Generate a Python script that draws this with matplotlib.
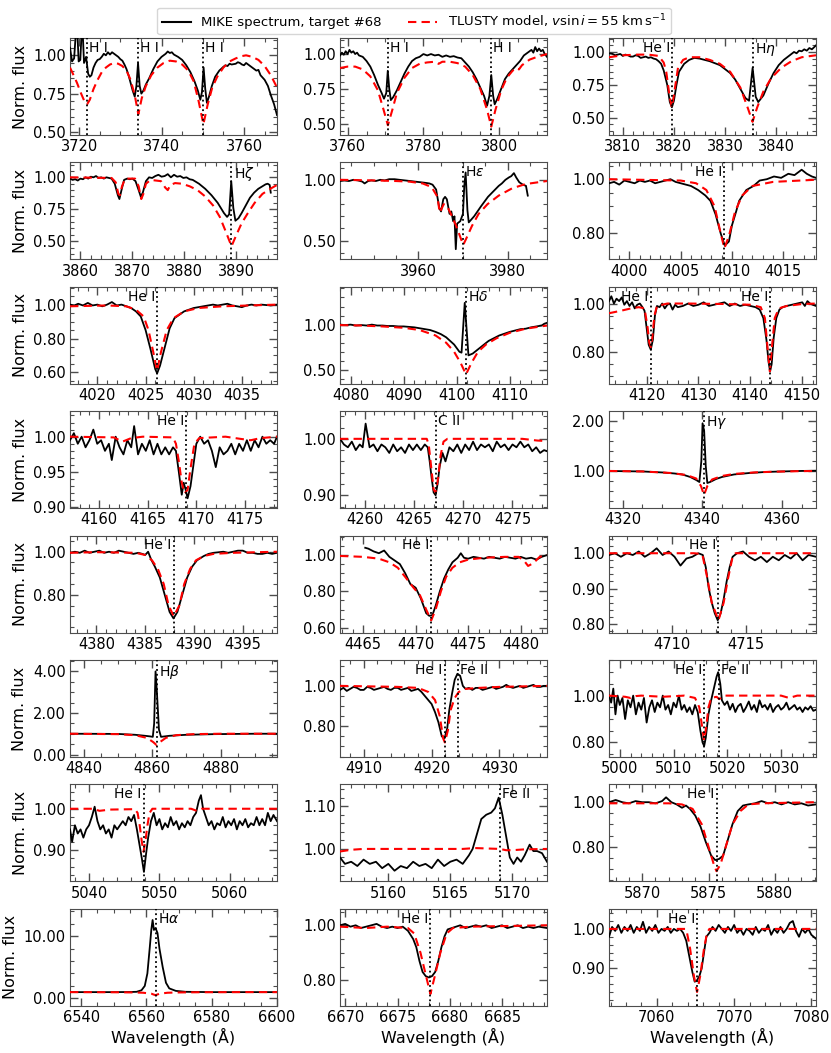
import numpy as np
import matplotlib
matplotlib.use('Agg')
import matplotlib.pyplot as plt
from matplotlib.ticker import MultipleLocator, AutoMinorLocator, FormatStrFormatter
from matplotlib.lines import Line2D

plt.rcParams['font.family'] = 'DejaVu Sans'
plt.rcParams['mathtext.fontset'] = 'dejavusans'

p01_obs = [(3717.8,1.05),(3718.3,0.96),(3718.8,0.98),(3719.2,1.14),(3719.6,1.14),(3719.9,0.96),(3720.3,0.97),
           (3720.6,1.14),(3720.9,1.14),(3721.2,0.95),(3721.7,0.99),(3722.2,0.88),(3722.6,0.86),(3723.0,0.87),
           (3723.5,0.92),(3724.0,0.95),(3724.5,0.97),(3725.0,0.975),(3725.5,0.99),(3726.0,1.01),(3726.5,1.0),
           (3727.0,1.02),(3727.5,1.005),(3728.0,1.02),(3728.5,1.01),(3729.0,1.0),(3729.5,0.99),(3730.0,0.975),
           (3730.5,0.965),(3731.0,0.94),(3731.5,0.91),(3732.0,0.87),(3732.5,0.82),(3733.0,0.77),(3733.5,0.73),
           (3733.9,0.80),(3734.3,0.95),(3734.7,0.80),(3735.1,0.75),(3735.6,0.77),(3736.2,0.81),(3737.0,0.85),
           (3738.0,0.91),(3739.0,0.96),(3740.0,0.99),(3741.0,1.01),(3741.5,1.025),(3742.0,1.015),(3742.5,1.02),
           (3743.0,1.005),(3744.0,0.99),(3745.0,0.97),(3746.0,0.935),(3747.0,0.89),(3748.0,0.83),(3748.8,0.77),
           (3749.4,0.71),(3749.8,0.76),(3750.2,0.92),(3750.6,0.78),(3751.0,0.69),(3751.5,0.73),(3752.2,0.80),
           (3753.0,0.86),(3754.0,0.90),(3755.0,0.925),(3755.5,0.935),(3756.0,0.93),(3756.5,0.945),(3757.0,0.94),
           (3758.0,0.945),(3758.5,0.955),(3759.0,0.95),(3759.5,0.94),(3760.0,0.935),(3760.5,0.95),(3761.0,0.94),
           (3762.0,0.92),(3763.0,0.90),(3763.5,0.905),(3764.0,0.87),(3765.0,0.84),(3765.8,0.80),(3766.5,0.74),
           (3767.3,0.68),(3768.0,0.61)]
p01_mod = [(3717.8,0.92),(3718.5,0.88),(3719.5,0.82),(3720.5,0.75),(3721.3,0.70),(3721.94,0.68),(3722.6,0.71),
           (3723.5,0.78),(3724.5,0.84),(3725.5,0.89),(3726.5,0.92),(3727.5,0.94),(3728.5,0.95),(3729.5,0.945),
           (3730.5,0.93),(3731.5,0.90),(3732.5,0.84),(3733.5,0.74),(3734.37,0.615),(3735.2,0.72),(3736.2,0.80),
           (3737.5,0.87),(3739.0,0.92),(3740.5,0.95),(3742.0,0.965),(3743.5,0.96),(3745.0,0.94),(3746.5,0.90),
           (3747.8,0.83),(3749.0,0.70),(3750.15,0.55),(3751.2,0.68),(3752.3,0.79),(3753.5,0.86),(3755.0,0.92),
           (3756.5,0.96),(3758.0,0.98),(3759.5,0.995),(3760.5,1.0),(3762.0,0.99),(3763.5,0.97),(3765.0,0.93),
           (3766.5,0.87),(3768.0,0.79)]

p02_obs = [(3758.0,0.99),(3758.5,1.01),(3759.0,0.995),(3759.5,1.02),(3760.0,1.0),(3760.5,1.03),(3761.0,1.01),
           (3761.5,1.02),(3762.0,1.0),(3762.5,1.01),(3763.0,0.99),(3764.0,0.98),(3765.0,0.95),(3766.0,0.91),
           (3767.0,0.85),(3768.0,0.78),(3769.0,0.72),(3769.6,0.68),(3770.2,0.72),(3770.6,0.88),(3771.0,0.75),
           (3771.4,0.67),(3772.0,0.69),(3773.0,0.74),(3774.0,0.80),(3775.0,0.86),(3776.0,0.91),(3777.0,0.95),
           (3778.0,0.97),(3779.0,0.98),(3780.0,1.0),(3781.0,0.99),(3782.0,1.0),(3783.0,0.99),(3784.0,0.995),
           (3785.0,0.98),(3786.0,0.99),(3787.0,0.98),(3788.0,0.985),(3789.0,0.975),(3790.0,0.97),(3791.0,0.94),
           (3792.0,0.91),(3793.0,0.87),(3794.0,0.82),(3795.0,0.76),(3796.0,0.70),(3796.8,0.63),(3797.4,0.70),
           (3797.9,0.85),(3798.4,0.70),(3798.8,0.64),(3799.5,0.68),(3800.5,0.75),(3801.5,0.82),(3802.5,0.86),
           (3803.5,0.89),(3804.5,0.92),(3805.5,0.95),(3806.5,0.99),(3807.5,1.01),(3808.5,1.03),(3809.0,1.01),
           (3809.5,1.05),(3810.0,1.02),(3810.5,1.04),(3811.0,1.02),(3811.5,1.03),(3812.0,1.0),(3812.6,0.98)]
p02_mod = [(3758.0,0.90),(3760.0,0.91),(3762.0,0.91),(3764.0,0.89),(3766.0,0.84),(3768.0,0.74),(3769.5,0.60),
           (3770.63,0.49),(3771.8,0.60),(3773.0,0.72),(3775.0,0.83),(3777.0,0.90),(3779.0,0.93),(3781.0,0.94),
           (3783.0,0.945),(3784.0,0.93),(3785.0,0.945),(3787.0,0.945),(3789.0,0.935),(3791.0,0.91),(3793.0,0.85),
           (3795.0,0.75),(3796.8,0.60),(3797.9,0.48),(3799.0,0.60),(3800.5,0.74),(3802.0,0.83),(3803.5,0.88),
           (3804.5,0.90),(3805.2,0.89),(3806.0,0.92),(3808.0,0.96),(3810.0,0.98),(3812.6,1.0)]

p03_obs = [(3807.3,0.99),(3808.0,0.985),(3808.5,0.975),(3809.0,0.98),(3809.5,0.985),(3810.0,0.97),(3810.5,0.98),
           (3811.0,0.975),(3811.5,0.965),(3812.0,0.965),(3812.5,0.975),(3813.0,0.97),(3813.5,0.955),(3814.0,0.96),
           (3814.5,0.965),(3815.0,0.955),(3815.5,0.96),(3816.0,0.95),(3816.5,0.945),(3817.0,0.93),(3817.5,0.91),
           (3818.0,0.86),(3818.7,0.75),(3819.2,0.62),(3819.6,0.58),(3820.0,0.63),(3820.5,0.75),(3821.0,0.85),
           (3822.0,0.91),(3823.0,0.94),(3824.0,0.955),(3825.0,0.95),(3826.0,0.94),(3827.0,0.93),(3828.0,0.915),
           (3829.0,0.90),(3830.0,0.87),(3831.0,0.84),(3832.0,0.79),(3833.0,0.72),(3834.0,0.65),(3834.7,0.63),
           (3835.4,0.88),(3836.0,0.66),(3836.5,0.62),(3837.5,0.67),(3838.5,0.76),(3839.5,0.84),(3840.5,0.90),
           (3841.5,0.94),(3842.5,0.97),(3843.0,0.985),(3843.5,1.0),(3844.0,0.99),(3844.5,1.01),(3845.0,1.005),
           (3845.5,1.02),(3846.0,1.01),(3846.5,1.03),(3847.0,1.02),(3847.8,1.05)]
p03_mod = [(3807.3,0.96),(3810.0,0.975),(3813.0,0.98),(3815.0,0.98),(3817.0,0.97),(3818.0,0.92),(3818.5,0.85),
           (3819.2,0.65),(3819.6,0.58),(3820.1,0.70),(3820.8,0.88),(3821.8,0.94),(3823.0,0.96),(3825.0,0.96),
           (3827.0,0.94),(3829.0,0.91),(3831.0,0.85),(3833.0,0.73),(3834.5,0.57),(3835.38,0.47),(3836.3,0.58),
           (3837.5,0.70),(3839.0,0.80),(3841.0,0.88),(3843.0,0.93),(3845.0,0.96),(3847.8,0.975)]

p04_obs = [(3858.0,0.99),(3858.5,0.98),(3859.0,0.985),(3859.5,0.975),(3860.0,0.99),(3860.5,0.985),(3861.0,1.0),
           (3861.5,0.99),(3862.0,1.005),(3862.5,1.0),(3863.0,1.01),(3863.5,0.995),(3864.0,1.0),(3864.5,0.99),
           (3865.0,1.0),(3865.5,0.995),(3866.0,0.99),(3866.6,0.95),(3867.2,0.86),(3867.5,0.83),(3867.9,0.90),
           (3868.4,0.98),(3869.0,0.99),(3869.5,0.985),(3870.0,0.99),(3870.6,0.97),(3871.2,0.90),(3871.6,0.85),
           (3872.0,0.88),(3872.6,0.97),(3873.2,1.0),(3873.8,0.995),(3874.4,1.01),(3875.0,1.02),(3875.6,1.005),
           (3876.2,1.01),(3876.8,1.025),(3877.4,1.0),(3878.0,1.02),(3878.6,1.005),(3879.2,1.01),(3879.8,0.995),
           (3880.4,1.0),(3881.0,0.985),(3881.6,0.98),(3882.2,0.965),(3882.8,0.95),(3883.4,0.93),(3884.0,0.91),
           (3884.6,0.885),(3885.2,0.86),(3885.8,0.83),(3886.4,0.80),(3887.0,0.76),(3887.6,0.72),(3888.2,0.69),
           (3888.6,0.71),(3889.0,0.97),(3889.4,0.76),(3889.8,0.66),(3890.4,0.68),(3891.0,0.72),(3891.8,0.78),
           (3892.6,0.84),(3893.4,0.88),(3894.2,0.91),(3895.0,0.93),(3895.6,0.945),(3896.0,0.95),(3896.4,0.94),
           (3896.6,0.88)]
p04_mod = [(3858.0,1.0),(3866.0,0.995),(3866.8,0.96),(3867.3,0.87),(3867.6,0.86),(3868.0,0.93),(3868.6,0.99),
           (3870.5,0.99),(3871.2,0.93),(3871.7,0.83),(3872.1,0.87),(3872.6,0.95),(3873.5,0.98),(3875.5,0.97),
           (3876.3,0.92),(3876.8,0.90),(3877.3,0.94),(3878.2,0.955),(3879.5,0.95),(3881.0,0.93),(3882.5,0.90),
           (3884.0,0.85),(3885.5,0.78),(3886.8,0.69),(3888.0,0.57),(3889.05,0.46),(3890.0,0.55),(3891.0,0.64),
           (3892.2,0.72),(3893.5,0.80),(3895.0,0.87),(3896.5,0.91),(3897.8,0.94)]

p05_obs = [(3942.5,0.99),(3943.5,0.995),(3944.5,0.99),(3945.5,1.0),(3946.5,0.995),(3947.5,0.985),(3948.0,0.97),
           (3948.8,0.99),(3949.5,0.995),(3950.5,0.99),(3951.5,1.0),(3952.5,0.995),(3953.5,1.005),(3954.7,1.005),
           (3955.8,1.0),(3957.0,0.995),(3958.2,0.99),(3959.3,0.985),(3960.5,0.98),(3961.6,0.975),(3962.5,0.97),
           (3963.2,0.96),(3964.0,0.92),(3964.7,0.77),(3965.1,0.74),(3965.6,0.84),(3966.0,0.86),(3966.4,0.84),
           (3966.7,0.78),(3967.0,0.72),(3967.4,0.74),(3967.8,0.66),(3968.1,0.70),(3968.4,0.43),(3968.7,0.64),
           (3969.4,0.66),(3970.0,0.72),(3970.3,0.95),(3970.6,1.06),(3971.0,0.75),(3971.3,0.65),(3972.5,0.70),
           (3974.0,0.78),(3975.6,0.86),(3977.2,0.92),(3978.0,0.95),(3978.7,0.97),(3979.5,1.0),(3980.3,1.02),
           (3980.8,1.03),(3981.4,1.055),(3981.9,1.02),(3982.6,0.98),(3983.4,0.96),(3984.1,0.95),(3984.5,0.87)]
p05_mod = [(3942.5,1.0),(3950.0,0.995),(3955.0,0.99),(3958.0,0.985),(3961.0,0.97),(3963.0,0.94),(3964.3,0.86),
           (3964.8,0.73),(3965.7,0.80),(3966.5,0.78),(3967.3,0.72),(3968.5,0.62),(3969.5,0.52),(3970.07,0.465),
           (3970.9,0.53),(3972.0,0.62),(3973.5,0.72),(3975.5,0.80),(3978.0,0.87),(3981.0,0.93),(3984.0,0.965),
           (3988.8,0.99)]

p06_obs = [(3998.0,0.985),(3998.5,0.99),(3999.0,0.98),(3999.5,0.995),(4000.0,0.99),(4000.5,0.985),(4001.0,0.995),
           (4001.5,0.99),(4002.0,0.995),(4002.5,0.985),(4003.0,0.99),(4003.5,0.995),(4004.0,1.0),(4004.5,0.99),
           (4005.0,0.985),(4005.5,0.98),(4006.0,0.975),(4006.7,0.96),(4007.4,0.94),(4007.9,0.92),(4008.4,0.87),
           (4008.9,0.80),(4009.3,0.755),(4009.7,0.77),(4010.0,0.83),(4010.4,0.88),(4010.7,0.92),(4011.4,0.96),
           (4012.1,0.975),(4012.7,0.995),(4013.4,1.0),(4014.1,1.01),(4014.8,1.005),(4015.5,1.02),(4016.1,1.015),
           (4016.8,1.035),(4017.3,1.02),(4017.8,1.01),(4018.2,1.005)]
p06_mod = [(3998.0,1.0),(4005.0,0.995),(4006.5,0.985),(4007.5,0.96),(4008.3,0.90),(4008.9,0.80),(4009.26,0.745),
           (4009.7,0.79),(4010.3,0.88),(4011.0,0.94),(4012.0,0.975),(4014.0,0.99),(4018.2,0.998)]

p07_obs = [(4017.15,1.0),(4017.6,0.995),(4018.0,1.005),(4018.5,0.995),(4019.0,1.01),(4019.5,0.995),(4020.0,1.0),
           (4020.5,0.99),(4021.0,1.0),(4021.5,1.015),(4022.0,0.995),(4022.5,1.0),(4023.0,0.99),(4023.5,0.98),
           (4024.0,0.96),(4024.5,0.93),(4025.0,0.85),(4025.5,0.74),(4026.0,0.62),(4026.2,0.595),(4026.5,0.64),
           (4027.0,0.75),(4027.5,0.86),(4028.0,0.92),(4029.0,0.96),(4030.0,0.98),(4031.0,0.99),(4032.0,1.0),
           (4032.5,0.995),(4033.0,1.0),(4033.5,1.005),(4034.0,0.995),(4034.5,0.99),(4035.0,0.985),(4035.5,0.995),
           (4036.0,1.0),(4036.5,0.995),(4037.0,1.0),(4038.0,0.995),(4038.65,1.0)]
p07_mod = [(4017.15,0.99),(4021.0,0.995),(4023.0,0.99),(4024.0,0.97),(4024.8,0.93),(4025.3,0.85),(4025.8,0.72),
           (4026.19,0.61),(4026.6,0.72),(4027.2,0.85),(4027.9,0.92),(4029.0,0.96),(4030.5,0.98),(4033.0,0.99),
           (4038.65,1.0)]

p08_obs = [(4078.0,1.0),(4079.0,0.995),(4080.0,1.0),(4081.0,0.99),(4082.0,0.995),(4083.0,0.99),(4084.0,1.0),
           (4085.0,0.99),(4086.0,0.99),(4087.0,0.985),(4088.0,0.985),(4089.0,0.98),(4090.0,0.98),(4091.0,0.975),
           (4092.0,0.97),(4093.0,0.96),(4094.0,0.95),(4095.0,0.94),(4096.0,0.92),(4097.0,0.895),(4098.0,0.86),
           (4099.5,0.78),(4100.5,0.70),(4100.9,0.69),(4101.5,1.24),(4102.2,0.66),(4103.0,0.68),(4104.5,0.75),
           (4106.0,0.82),(4108.0,0.88),(4110.0,0.92),(4112.0,0.95),(4113.0,0.955),(4114.0,0.97),(4115.0,0.98),
           (4116.0,0.99),(4116.5,1.01),(4117.0,1.02)]
p08_mod = [(4078.0,0.995),(4082.0,0.99),(4086.0,0.98),(4090.0,0.965),(4093.0,0.94),(4096.0,0.88),(4098.0,0.80),
           (4099.5,0.70),(4100.7,0.58),(4101.74,0.45),(4102.8,0.58),(4104.0,0.70),(4105.5,0.78),(4107.5,0.85),
           (4110.0,0.91),(4113.0,0.955),(4117.0,0.99)]

p09_obs = [(4112.75,1.01),(4113.2,1.03),(4113.7,1.0),(4114.2,1.02),(4114.7,1.01),(4115.2,1.025),(4115.7,0.995),
           (4116.2,1.01),(4116.7,0.99),(4117.2,1.005),(4117.7,0.98),(4118.2,0.995),(4118.7,1.0),(4119.2,0.985),
           (4119.6,0.97),(4120.0,0.90),(4120.4,0.83),(4120.8,0.81),(4121.2,0.85),(4121.6,0.95),(4122.0,0.99),
           (4122.5,0.985),(4123.0,1.0),(4123.5,0.98),(4124.0,0.995),(4124.5,1.0),(4125.0,0.975),(4125.5,0.995),
           (4126.0,0.985),(4127.0,0.99),(4128.0,1.0),(4129.0,0.99),(4130.0,0.995),(4131.0,1.005),(4132.0,0.99),
           (4133.0,0.995),(4134.0,1.0),(4135.0,1.005),(4136.0,0.99),(4137.0,1.0),(4138.0,0.99),(4139.0,0.995),
           (4140.0,0.99),(4141.0,0.985),(4141.8,0.975),(4142.5,0.94),(4143.1,0.85),(4143.5,0.76),(4143.8,0.72),
           (4144.1,0.75),(4144.5,0.86),(4145.0,0.94),(4145.6,0.975),(4146.2,0.985),(4147.0,0.99),(4148.0,0.995),
           (4149.0,1.0),(4150.0,1.005),(4150.5,0.99),(4151.0,1.01),(4151.5,1.0),(4152.0,0.995),(4152.65,0.99)]
p09_mod = [(4112.75,0.96),(4115.0,0.97),(4117.0,0.98),(4118.5,0.985),(4119.6,0.98),(4120.2,0.90),(4120.5,0.84),
           (4120.81,0.82),(4121.1,0.86),(4121.5,0.95),(4122.0,0.99),(4124.0,1.0),(4128.0,1.0),(4135.0,0.998),
           (4140.0,0.995),(4142.0,0.985),(4142.8,0.94),(4143.3,0.82),(4143.76,0.72),(4144.2,0.83),(4144.7,0.94),
           (4145.5,0.98),(4147.0,0.99),(4150.0,0.998),(4152.65,1.0)]

p10_obs = [(4157.0,0.995),(4157.4,1.005),(4157.8,0.99),(4158.2,1.0),(4158.6,0.985),(4159.0,0.995),(4159.4,1.01),
           (4159.8,0.99),(4160.2,0.995),(4160.6,0.98),(4161.0,0.99),(4161.3,0.967),(4161.7,1.0),(4162.1,0.985),
           (4162.5,0.975),(4162.9,0.995),(4163.3,0.985),(4163.6,1.015),(4164.0,0.975),(4164.4,0.99),(4164.8,0.98),
           (4165.2,0.995),(4165.6,0.975),(4166.0,0.99),(4166.4,0.975),(4166.8,0.985),(4167.2,0.975),(4167.6,0.985),
           (4167.9,0.98),(4168.2,0.95),(4168.5,0.918),(4168.7,0.935),(4168.9,0.925),(4169.1,0.913),(4169.4,0.93),
           (4169.7,0.96),(4170.0,0.99),(4170.4,1.0),(4170.8,0.99),(4171.2,0.995),(4171.6,0.98),(4172.0,0.957),
           (4172.4,0.985),(4172.8,0.975),(4173.2,0.98),(4173.6,0.99),(4174.0,0.975),(4174.4,0.99),(4174.8,0.98),
           (4175.2,0.995),(4175.6,0.98),(4176.0,0.995),(4176.4,0.985),(4176.8,1.0),(4177.2,0.99),(4177.6,0.995),
           (4178.0,0.99),(4178.3,1.0)]
p10_mod = [(4157.0,1.0),(4161.5,0.999),(4162.4,0.993),(4163.3,0.998),(4164.5,1.0),(4167.6,0.999),(4167.9,0.99),
           (4168.2,0.965),(4168.5,0.935),(4168.8,0.92),(4169.1,0.925),(4169.4,0.955),(4169.8,0.99),(4170.3,0.998),
           (4173.0,1.0),(4174.5,0.997),(4175.6,0.995),(4176.6,0.998),(4178.3,1.0)]

p11_obs = [(4257.5,1.0),(4257.9,0.99),(4258.3,0.985),(4258.7,0.995),(4259.1,0.98),(4259.5,0.99),(4259.8,0.985),
           (4260.1,1.027),(4260.5,0.985),(4260.9,0.99),(4261.3,0.978),(4261.7,0.99),(4262.1,0.985),(4262.5,0.975),
           (4262.9,0.99),(4263.3,0.978),(4263.7,0.985),(4264.1,0.975),(4264.5,0.99),(4264.9,0.98),(4265.3,0.99),
           (4265.7,0.98),(4266.1,0.99),(4266.4,0.985),(4266.6,0.96),(4266.8,0.93),(4267.0,0.905),(4267.2,0.90),
           (4267.4,0.92),(4267.6,0.95),(4267.9,0.975),(4268.2,0.96),(4268.6,0.985),(4269.0,0.978),(4269.4,0.99),
           (4269.8,0.975),(4270.2,0.99),(4270.6,0.98),(4271.0,0.995),(4271.4,0.98),(4271.8,0.99),(4272.2,0.985),
           (4272.6,0.99),(4273.0,0.978),(4273.4,0.995),(4273.8,0.985),(4274.2,0.99),(4274.6,0.98),(4275.0,0.99),
           (4275.4,0.985),(4275.8,0.995),(4276.2,0.985),(4276.6,0.99),(4277.0,0.978),(4277.4,0.985),(4277.8,0.975),
           (4278.2,0.98),(4278.5,0.978)]
p11_mod = [(4257.5,1.0),(4266.3,1.0),(4266.5,0.99),(4266.75,0.95),(4267.0,0.91),(4267.2,0.905),(4267.45,0.93),
           (4267.7,0.97),(4268.0,0.995),(4268.4,1.0),(4276.0,1.0),(4277.5,0.997),(4278.5,0.996)]

p12_obs = [(4316.6,1.0),(4320.0,0.995),(4325.0,0.99),(4330.0,0.97),(4333.0,0.95),(4335.0,0.93),(4337.0,0.88),
           (4338.5,0.82),(4339.3,0.78),(4339.8,1.20),(4340.1,1.95),(4340.5,1.80),(4340.9,1.10),(4341.3,0.76),
           (4342.0,0.78),(4343.5,0.84),(4345.0,0.88),(4348.0,0.93),(4352.0,0.96),(4356.0,0.98),(4360.0,0.99),
           (4365.0,1.0),(4368.6,1.005)]
p12_mod = [(4316.6,1.0),(4325.0,0.99),(4332.0,0.96),(4336.0,0.92),(4338.5,0.85),(4339.7,0.70),(4340.47,0.52),
           (4341.3,0.70),(4342.5,0.83),(4345.0,0.90),(4348.0,0.94),(4353.0,0.97),(4358.0,0.985),(4364.0,0.995),
           (4368.6,1.0)]

p13_obs = [(4377.3,0.995),(4377.8,1.0),(4378.3,0.995),(4378.8,1.005),(4379.3,0.995),(4379.8,1.0),(4380.3,1.005),
           (4380.8,0.995),(4381.3,1.0),(4381.8,0.995),(4382.3,1.005),(4382.8,1.0),(4383.3,0.995),(4383.8,0.99),
           (4384.3,0.995),(4384.7,0.99),(4385.0,0.985),(4385.3,1.0),(4385.6,0.965),(4386.0,0.93),(4386.5,0.88),
           (4387.0,0.80),(4387.5,0.72),(4387.9,0.69),(4388.3,0.72),(4388.8,0.80),(4389.3,0.88),(4389.8,0.93),
           (4390.3,0.96),(4391.0,0.98),(4391.5,0.99),(4392.0,0.995),(4393.0,1.0),(4393.5,0.995),(4394.0,1.0),
           (4394.5,1.005),(4395.0,1.005),(4395.5,0.995),(4396.0,0.995),(4396.5,0.99),(4397.0,0.99),(4397.5,0.995),
           (4398.0,0.99),(4398.5,0.995)]
p13_mod = [(4377.3,0.995),(4380.0,0.998),(4384.0,0.995),(4385.0,0.985),(4385.7,0.96),(4386.3,0.92),(4386.9,0.85),
           (4387.4,0.75),(4387.93,0.70),(4388.5,0.75),(4389.0,0.85),(4389.6,0.92),(4390.2,0.96),(4391.0,0.98),
           (4392.0,0.99),(4394.0,0.995),(4398.5,1.0)]

p14_obs = [(4465.2,1.04),(4465.5,1.035),(4466.0,1.02),(4466.5,1.01),(4467.0,1.025),(4467.5,0.99),(4468.0,0.97),
           (4468.5,0.95),(4469.0,0.90),(4469.5,0.84),(4470.0,0.82),(4470.5,0.76),(4471.0,0.68),(4471.3,0.665),
           (4471.6,0.67),(4471.9,0.72),(4472.3,0.80),(4472.7,0.87),(4473.1,0.92),(4473.5,0.96),(4474.0,0.985),
           (4474.3,1.01),(4474.6,0.985),(4475.0,0.98),(4475.5,0.99),(4476.0,0.985),(4476.5,0.98),(4477.0,0.99),
           (4477.5,0.985),(4478.0,0.98),(4478.5,0.99),(4479.0,0.985),(4479.5,0.98),(4480.0,0.99),(4480.5,0.98),
           (4481.0,0.985),(4481.5,0.975),(4482.0,0.99),(4482.5,1.0)]
p14_mod = [(4462.8,0.995),(4465.0,0.99),(4466.5,0.98),(4467.5,0.96),(4468.3,0.93),(4469.0,0.88),(4469.8,0.82),
           (4470.4,0.78),(4471.0,0.70),(4471.48,0.64),(4471.9,0.70),(4472.4,0.80),(4472.9,0.88),(4473.5,0.93),
           (4474.2,0.96),(4475.0,0.975),(4476.5,0.985),(4478.5,0.99),(4479.8,0.99),(4480.3,0.97),(4480.7,0.94),
           (4481.2,0.955),(4481.8,0.99),(4482.5,1.0)]

p15_obs = [(4705.8,0.995),(4706.2,1.0),(4706.6,0.99),(4707.0,1.0),(4707.4,0.995),(4707.8,1.005),(4708.2,0.99),
           (4708.6,1.0),(4709.0,1.014),(4709.4,0.995),(4709.8,1.005),(4710.2,0.99),(4710.6,0.965),(4711.0,0.985),
           (4711.4,0.99),(4711.8,1.0),(4712.1,0.995),(4712.3,0.96),(4712.5,0.90),(4712.7,0.86),(4712.9,0.83),
           (4713.1,0.81),(4713.3,0.83),(4713.5,0.87),(4713.7,0.92),(4713.9,0.96),(4714.1,0.99),(4714.4,1.0),
           (4714.8,1.005),(4715.2,0.99),(4715.6,0.98),(4716.0,0.99),(4716.4,0.975),(4716.8,0.99),(4717.2,0.98),
           (4717.6,0.995),(4718.0,0.985),(4718.4,1.0),(4718.8,0.98),(4719.2,0.995),(4719.7,0.99)]
p15_mod = [(4705.8,1.0),(4711.5,1.0),(4712.0,0.998),(4712.1,0.99),(4712.4,0.93),(4712.7,0.86),(4713.15,0.81),
           (4713.5,0.86),(4713.8,0.93),(4714.1,0.99),(4714.3,1.0),(4719.7,1.0)]

p16_obs = [(4836.0,1.0),(4845.0,0.995),(4850.0,0.99),(4855.0,0.95),(4858.0,0.90),(4859.5,0.87),(4860.2,0.85),
           (4860.6,1.50),(4861.0,4.00),(4861.4,3.00),(4862.0,1.20),(4862.6,0.85),(4865.0,0.90),(4870.0,0.95),
           (4878.0,0.98),(4890.0,1.0),(4896.5,1.0)]
p16_mod = [(4836.0,1.0),(4850.0,0.98),(4855.0,0.93),(4858.5,0.80),(4860.3,0.60),(4861.33,0.45),(4862.3,0.60),
           (4864.0,0.80),(4867.0,0.93),(4872.0,0.98),(4880.0,1.0),(4896.5,1.0)]

p17_obs = [(4906.5,0.98),(4907.0,0.99),(4907.5,0.975),(4908.0,0.985),(4908.5,0.995),(4909.0,0.99),(4909.5,0.98),
           (4910.0,0.98),(4910.5,0.995),(4911.0,0.99),(4911.5,0.98),(4912.0,0.985),(4912.5,0.99),(4913.0,0.995),
           (4913.5,0.985),(4914.0,0.98),(4914.5,0.99),(4915.0,0.99),(4915.5,0.98),(4916.0,0.985),(4916.5,0.99),
           (4917.0,0.975),(4917.5,0.98),(4918.0,0.985),(4918.5,0.97),(4919.0,0.95),(4919.5,0.93),(4920.0,0.91),
           (4920.5,0.87),(4921.0,0.82),(4921.5,0.75),(4921.9,0.74),(4922.3,0.79),(4922.6,0.88),(4923.0,0.96),
           (4923.4,1.03),(4923.8,1.06),(4924.2,1.05),(4924.6,1.0),(4925.0,0.985),(4925.5,0.99),(4926.0,0.98),
           (4926.5,0.99),(4927.0,0.99),(4927.5,0.98),(4928.0,0.985),(4928.5,0.99),(4929.0,0.995),(4929.5,0.985),
           (4930.0,0.99),(4930.5,0.995),(4931.0,1.005),(4931.5,0.995),(4932.0,0.99),(4932.5,0.995),(4933.0,1.0),
           (4933.5,0.99),(4934.0,0.995),(4934.5,1.0),(4935.0,1.005),(4935.5,0.995),(4936.0,0.995),(4936.5,1.0),
           (4937.0,1.0)]
p17_mod = [(4906.5,1.0),(4915.0,0.995),(4918.0,0.99),(4919.5,0.97),(4920.5,0.93),(4921.2,0.85),(4921.7,0.74),
           (4921.95,0.72),(4922.4,0.78),(4922.8,0.88),(4923.4,0.94),(4924.0,0.97),(4925.0,0.985),(4927.0,0.99),
           (4930.0,0.995),(4937.0,1.0)]

p18_obs = [(4998.0,1.0),(4998.4,0.97),(4998.8,1.03),(4999.2,0.92),(4999.6,1.0),(5000.0,0.96),(5000.5,0.99),
           (5001.0,0.90),(5001.5,0.98),(5002.0,0.95),(5002.5,1.0),(5003.0,0.92),(5003.5,0.97),(5004.0,0.94),
           (5004.5,0.99),(5005.0,0.885),(5005.5,0.95),(5006.0,0.98),(5006.5,0.93),(5007.0,0.97),(5007.5,0.95),
           (5008.0,1.0),(5008.5,0.94),(5009.0,0.96),(5009.5,0.92),(5010.0,0.97),(5010.5,0.95),(5011.0,1.0),
           (5011.5,0.94),(5012.0,0.96),(5012.5,0.93),(5013.0,0.95),(5013.5,0.92),(5014.0,0.96),(5014.5,0.93),
           (5015.0,0.85),(5015.4,0.80),(5015.7,0.785),(5016.0,0.82),(5016.5,0.92),(5017.0,0.98),(5017.5,1.03),
           (5018.0,1.08),(5018.3,1.10),(5018.7,1.05),(5019.0,0.98),(5019.5,0.96),(5020.0,0.975),(5020.5,0.94),
           (5021.0,0.965),(5021.5,0.93),(5022.0,0.955),(5022.5,0.965),(5023.0,0.93),(5023.5,0.95),(5024.0,0.975),
           (5024.5,0.94),(5025.0,0.96),(5025.5,0.93),(5026.0,0.98),(5026.5,0.95),(5027.0,0.96),(5027.5,0.94),
           (5028.0,0.965),(5028.5,0.93),(5029.0,0.95),(5029.5,0.96),(5030.0,0.94),(5030.5,0.95),(5031.0,0.97),
           (5031.5,0.94),(5032.0,0.95),(5032.5,0.96),(5033.0,0.94),(5033.5,0.95),(5034.0,0.93),(5034.5,0.95),
           (5035.0,0.94),(5035.5,0.955),(5036.0,0.935),(5036.5,0.94)]
p18_mod = [(4998.0,1.0),(5001.0,0.995),(5002.0,0.99),(5003.0,0.998),(5004.0,1.0),(5008.0,0.995),(5012.0,1.0),
           (5014.0,0.99),(5014.8,0.95),(5015.3,0.87),(5015.68,0.81),(5016.1,0.87),(5016.5,0.95),(5017.0,0.99),
           (5018.0,0.995),(5018.5,0.985),(5019.5,1.0),(5030.0,1.0),(5031.5,0.99),(5033.0,1.0),(5036.5,1.0)]

p19_obs = [(5037.3,0.95),(5037.6,0.92),(5038.0,0.96),(5038.4,0.94),(5038.8,0.95),(5039.2,0.93),(5039.6,0.95),
           (5040.0,0.96),(5040.4,0.98),(5040.8,1.005),(5041.2,0.97),(5041.6,0.95),(5042.0,0.96),(5042.4,0.94),
           (5042.8,0.95),(5043.2,0.93),(5043.6,0.96),(5044.0,0.95),(5044.4,0.96),(5044.8,0.97),(5045.2,0.96),
           (5045.6,0.98),(5046.0,0.97),(5046.4,0.985),(5046.8,0.95),(5047.2,0.91),(5047.5,0.88),(5047.8,0.847),
           (5048.1,0.89),(5048.4,0.93),(5048.8,0.97),(5049.2,0.99),(5049.6,0.96),(5050.0,0.975),(5050.4,0.95),
           (5050.8,0.965),(5051.2,0.955),(5051.6,0.98),(5052.0,0.96),(5052.4,0.97),(5052.8,0.95),(5053.2,0.965),
           (5053.6,0.955),(5054.0,0.97),(5054.4,0.96),(5054.8,0.98),(5055.2,0.99),(5055.6,1.02),(5055.9,1.033),
           (5056.2,1.0),(5056.6,0.98),(5057.0,0.96),(5057.4,0.97),(5057.8,0.95),(5058.2,0.965),(5058.6,0.96),
           (5059.0,0.98),(5059.4,0.955),(5059.8,0.97),(5060.2,0.96),(5060.6,0.975),(5061.0,0.95),(5061.4,0.97),
           (5061.8,0.96),(5062.2,0.975),(5062.6,0.955),(5063.0,0.965),(5063.4,0.96),(5063.8,0.98),(5064.2,0.96),
           (5064.6,0.975),(5065.0,0.96),(5065.4,0.99),(5065.8,0.97),(5066.2,0.985),(5066.7,0.97)]
p19_mod = [(5037.3,1.0),(5040.5,1.0),(5041.5,0.995),(5043.0,0.998),(5046.5,0.999),(5046.9,0.99),(5047.2,0.96),
           (5047.5,0.92),(5047.74,0.896),(5048.0,0.92),(5048.3,0.96),(5048.6,0.99),(5049.0,1.0),(5054.5,1.0),
           (5055.3,0.995),(5056.0,1.0),(5066.7,1.0)]

p20_obs = [(5156.1,0.98),(5156.5,0.965),(5157.0,0.97),(5157.5,0.96),(5158.0,0.975),(5158.5,0.965),(5159.0,0.97),
           (5159.5,0.955),(5160.0,0.965),(5160.5,0.949),(5161.0,0.96),(5161.5,0.955),(5162.0,0.97),(5162.5,0.96),
           (5163.0,0.965),(5163.5,0.955),(5164.0,0.975),(5164.5,0.96),(5165.0,0.97),(5165.5,0.975),(5166.0,0.965),
           (5166.5,0.985),(5166.8,1.0),(5167.1,1.03),(5167.5,1.07),(5167.9,1.08),(5168.3,1.085),(5168.6,1.095),
           (5168.9,1.12),(5169.2,1.08),(5169.5,1.03),(5169.8,0.98),(5170.1,0.965),(5170.4,0.98),(5170.7,0.97),
           (5171.0,0.985),(5171.4,1.01),(5171.7,0.995),(5172.0,0.995),(5172.4,0.99),(5172.8,0.97)]
p20_mod = [(5156.1,0.994),(5157.0,0.998),(5158.0,1.0),(5166.0,1.0),(5167.0,1.002),(5169.0,1.0),(5169.5,0.997),
           (5170.0,0.997),(5171.0,0.999),(5172.8,1.0)]

p21_obs = [(5867.5,1.0),(5868.0,1.01),(5868.5,1.0),(5869.0,0.995),(5869.5,1.005),(5870.0,1.0),(5870.5,1.0),
           (5871.0,0.995),(5871.5,1.005),(5871.8,1.022),(5872.2,1.0),(5872.6,0.99),(5873.0,0.975),(5873.3,0.985),
           (5873.6,0.97),(5874.0,0.94),(5874.4,0.89),(5874.8,0.82),(5875.2,0.76),(5875.5,0.74),(5875.8,0.745),
           (5876.1,0.76),(5876.4,0.82),(5876.8,0.90),(5877.2,0.96),(5877.6,0.985),(5878.0,0.99),(5878.5,0.995),
           (5879.0,1.005),(5879.5,0.995),(5880.0,1.0),(5880.5,0.99),(5881.0,1.0),(5881.5,0.99),(5882.0,0.995),
           (5882.5,0.985),(5883.1,0.99)]
p21_mod = [(5867.5,0.995),(5872.0,0.995),(5873.0,0.99),(5873.8,0.97),(5874.5,0.90),(5875.0,0.80),(5875.4,0.72),
           (5875.6,0.69),(5875.9,0.72),(5876.3,0.80),(5876.8,0.90),(5877.4,0.96),(5878.0,0.99),(5879.0,0.995),
           (5883.1,1.0)]

p22_obs = [(6536.6,1.0),(6550.0,1.0),(6555.0,1.02),(6557.0,1.05),(6558.5,1.3),(6559.5,2.0),(6560.3,4.0),
           (6561.0,8.0),(6561.5,11.0),(6561.9,12.6),(6562.3,11.0),(6562.8,11.3),(6563.4,10.5),(6564.0,8.0),
           (6565.0,5.0),(6566.0,2.5),(6567.0,1.6),(6569.0,1.2),(6572.0,1.05),(6580.0,1.0),(6600.0,1.0)]
p22_mod = [(6536.6,1.0),(6550.0,0.98),(6556.0,0.95),(6559.0,0.90),(6561.5,0.75),(6562.8,0.50),(6564.0,0.75),
           (6566.5,0.90),(6570.0,0.95),(6576.0,0.98),(6590.0,1.0),(6600.0,1.0)]

p23_obs = [(6669.5,1.0),(6670.0,1.005),(6670.5,0.995),(6671.0,1.0),(6671.5,0.99),(6672.0,0.995),(6672.5,1.0),
           (6673.0,1.005),(6673.5,0.995),(6674.0,0.99),(6674.5,0.995),(6675.0,0.99),(6675.5,0.995),(6676.0,0.98),
           (6676.5,0.95),(6676.8,0.92),(6677.1,0.87),(6677.4,0.83),(6677.7,0.815),(6678.0,0.81),(6678.3,0.815),
           (6678.6,0.83),(6678.9,0.87),(6679.2,0.92),(6679.5,0.96),(6679.8,0.985),(6680.2,0.99),(6680.6,0.995),
           (6681.0,1.0),(6681.5,0.99),(6682.0,0.995),(6682.5,1.0),(6683.0,0.995),(6683.5,1.0),(6684.0,0.99),
           (6684.5,0.995),(6685.0,1.0),(6685.5,0.99),(6686.0,0.995),(6686.5,1.0),(6687.0,0.99),(6687.5,0.995),
           (6688.0,0.99),(6688.5,0.995),(6689.3,0.99)]
p23_mod = [(6669.5,0.995),(6672.0,0.99),(6674.0,0.995),(6676.0,0.99),(6676.6,0.97),(6677.2,0.90),(6677.7,0.82),
           (6678.15,0.75),(6678.6,0.82),(6679.1,0.90),(6679.7,0.97),(6680.3,0.99),(6682.0,0.995),(6689.3,1.0)]

p24_obs = [(7053.8,0.98),(7054.2,1.005),(7054.6,0.995),(7055.0,1.01),(7055.4,0.99),(7055.8,1.005),(7056.2,0.995),
           (7056.6,1.01),(7057.0,0.99),(7057.4,1.005),(7057.8,0.995),(7058.2,1.018),(7058.6,0.99),(7059.0,1.005),
           (7059.4,0.995),(7059.8,1.01),(7060.2,0.99),(7060.6,1.0),(7061.0,0.995),(7061.4,1.005),(7061.8,0.99),
           (7062.2,1.0),(7062.6,0.995),(7063.0,1.0),(7063.4,0.99),(7063.8,0.97),(7064.2,0.93),(7064.6,0.89),
           (7064.9,0.866),(7065.2,0.87),(7065.5,0.88),(7065.8,0.90),(7066.1,0.94),(7066.4,0.98),(7066.8,0.99),
           (7067.2,1.005),(7067.6,0.995),(7068.0,1.01),(7068.4,1.0),(7068.8,0.99),(7069.2,1.005),(7069.6,0.995),
           (7070.0,1.01),(7070.4,0.99),(7070.8,1.0),(7071.2,0.985),(7071.6,1.0),(7072.0,0.995),(7072.4,0.985),
           (7072.8,1.005),(7073.2,0.99),(7073.6,1.0),(7074.0,0.995),(7074.4,1.01),(7074.8,0.985),(7075.2,1.0),
           (7075.6,0.99),(7076.0,1.005),(7076.4,0.99),(7076.8,1.0),(7077.2,1.015),(7077.6,1.02),(7078.0,0.995),
           (7078.4,0.98),(7078.8,1.0),(7079.2,0.99),(7079.6,1.0),(7080.0,0.985),(7080.6,0.975)]
p24_mod = [(7053.8,1.0),(7063.7,1.0),(7063.9,0.99),(7064.3,0.95),(7064.8,0.88),(7065.2,0.84),(7065.6,0.88),
           (7066.1,0.95),(7066.5,0.99),(7066.8,1.0),(7080.6,1.0)]

# line markers: (wavelength, label, side of the label)
H_I = 'H I'
HE_I = 'He I'
lines01 = [(3721.94, H_I, 'r'), (3734.37, H_I, 'r'), (3750.15, H_I, 'r')]
lines02 = [(3770.63, H_I, 'r'), (3797.90, H_I, 'r')]
lines03 = [(3819.61, HE_I, 'l'), (3835.38, r'H$\eta$', 'r')]
lines04 = [(3889.05, r'H$\zeta$', 'r')]
lines05 = [(3970.07, r'H$\epsilon$', 'r')]
lines06 = [(4009.26, HE_I, 'l')]
lines07 = [(4026.19, HE_I, 'l')]
lines08 = [(4101.74, r'H$\delta$', 'r')]
lines09 = [(4120.81, HE_I, 'l'), (4143.76, HE_I, 'l')]
lines10 = [(4168.97, HE_I, 'l')]
lines11 = [(4267.20, 'C II', 'r')]
lines12 = [(4340.47, r'H$\gamma$', 'r')]
lines13 = [(4387.93, HE_I, 'l')]
lines14 = [(4471.48, HE_I, 'l')]
lines15 = [(4713.15, HE_I, 'l')]
lines16 = [(4861.33, r'H$\beta$', 'r')]
lines17 = [(4921.93, HE_I, 'l'), (4923.92, 'Fe II', 'r')]
lines18 = [(5015.68, HE_I, 'l'), (5018.44, 'Fe II', 'r')]
lines19 = [(5047.74, HE_I, 'l')]
lines20 = [(5169.03, 'Fe II', 'r')]
lines21 = [(5875.62, HE_I, 'l')]
lines22 = [(6562.80, r'H$\alpha$', 'r')]
lines23 = [(6678.15, HE_I, 'l')]
lines24 = [(7065.19, HE_I, 'l')]

# obs, model, lines, xlim, ylim, x major step, y major step
panels = [
    (p01_obs, p01_mod, lines01, (3717.8, 3768.0), (0.48, 1.113), 20, 0.25),
    (p02_obs, p02_mod, lines02, (3758.0, 3812.6), (0.42, 1.115), 20, 0.25),
    (p03_obs, p03_mod, lines03, (3807.3, 3847.8), (0.37, 1.106), 10, 0.25),
    (p04_obs, p04_mod, lines04, (3858.0, 3897.8), (0.357, 1.117), 10, 0.25),
    (p05_obs, p05_mod, lines05, (3942.5, 3988.8), (0.346, 1.143), 20, 0.5),
    (p06_obs, p06_mod, lines06, (3998.0, 4018.2), (0.704, 1.062), 5, 0.2),
    (p07_obs, p07_mod, lines07, (4017.15, 4038.65), (0.533, 1.105), 5, 0.2),
    (p08_obs, p08_mod, lines08, (4078.0, 4117.0), (0.346, 1.418), 10, 0.5),
    (p09_obs, p09_mod, lines09, (4112.75, 4152.65), (0.669, 1.069), 10, 0.2),
    (p10_obs, p10_mod, lines10, (4157.0, 4178.3), (0.899, 1.036), 5, 0.05),
    (p11_obs, p11_mod, lines11, (4257.5, 4278.5), (0.877, 1.049), 5, 0.1),
    (p12_obs, p12_mod, lines12, (4316.6, 4368.6), (0.258, 2.19), 20, 1.0),
    (p13_obs, p13_mod, lines13, (4377.3, 4398.5), (0.624, 1.075), 5, 0.2),
    (p14_obs, p14_mod, lines14, (4462.8, 4482.5), (0.573, 1.107), 5, 0.2),
    (p15_obs, p15_mod, lines15, (4705.8, 4719.7), (0.775, 1.05), 5, 0.1),
    (p16_obs, p16_mod, lines16, (4836.0, 4896.5), (-0.12, 4.55), 20, 2.0),
    (p17_obs, p17_mod, lines17, (4906.5, 4937.0), (0.648, 1.128), 10, 0.2),
    (p18_obs, p18_mod, lines18, (4998.0, 5036.5), (0.738, 1.152), 10, 0.2),
    (p19_obs, p19_mod, lines19, (5037.3, 5066.7), (0.824, 1.059), 10, 0.1),
    (p20_obs, p20_mod, lines20, (5156.1, 5172.8), (0.924, 1.151), 5, 0.1),
    (p21_obs, p21_mod, lines21, (5867.5, 5883.1), (0.644, 1.08), 5, 0.2),
    (p22_obs, p22_mod, lines22, (6536.6, 6600.0), (-1.2, 14.4), 20, 10.0),
    (p23_obs, p23_mod, lines23, (6669.5, 6689.3), (0.707, 1.06), 5, 0.2),
    (p24_obs, p24_mod, lines24, (7053.8, 7080.6), (0.805, 1.051), 10, 0.1),
]

W, H = 831, 1053
fig = plt.figure(figsize=(W / 100, H / 100), dpi=100)

col_left = [70, 340, 609]
ax_w = 207
ax_h = 97
spine_col = '0.3'

for i, (obs, mod, lns, xl, yl, xstep, ystep) in enumerate(panels):
    r, c = divmod(i, 3)
    top = 38 + 124.4 * r
    ax = fig.add_axes([col_left[c] / W, 1 - (top + ax_h) / H, ax_w / W, ax_h / H])

    ow, of = zip(*obs)
    mw, mf = zip(*mod)
    ax.plot(ow, of, color='black', lw=1.3, zorder=3)
    ax.plot(mw, mf, color='red', lw=1.5, ls=(0, (4, 2.5)), zorder=4)

    for wl, lab, side in lns:
        ax.axvline(wl, color='black', ls=':', lw=1.3, zorder=5)
        if side == 'r':
            ax.annotate(lab, xy=(wl, 1), xycoords=('data', 'axes fraction'), xytext=(1.5, -2),
                        textcoords='offset points', ha='left', va='top', fontsize=10)
        else:
            ax.annotate(lab, xy=(wl, 1), xycoords=('data', 'axes fraction'), xytext=(-1.5, -2),
                        textcoords='offset points', ha='right', va='top', fontsize=10)

    ax.set_xlim(*xl)
    ax.set_ylim(*yl)
    ax.xaxis.set_major_locator(MultipleLocator(xstep))
    ax.yaxis.set_major_locator(MultipleLocator(ystep))
    ax.xaxis.set_minor_locator(AutoMinorLocator())
    ax.yaxis.set_minor_locator(AutoMinorLocator())
    ax.yaxis.set_major_formatter(FormatStrFormatter('%.2f'))
    ax.tick_params(which='both', direction='in', top=True, right=True, labelsize=10.5,
                   color=spine_col, pad=3)
    ax.tick_params(which='major', length=6, width=1)
    ax.tick_params(which='minor', length=3, width=0.8)
    for sp in ax.spines.values():
        sp.set_color(spine_col)

    if c == 0:
        ax.set_ylabel('Norm. flux', fontsize=11.5, labelpad=4)
    if r == 7:
        ax.set_xlabel('Wavelength (Å)', fontsize=11.5, labelpad=2)

handles = [Line2D([], [], color='black', lw=1.5),
           Line2D([], [], color='red', lw=1.5, ls=(0, (4, 2.5)))]
labels = ['MIKE spectrum, target #68', r'TLUSTY model, $v\sin i = 55\ \mathrm{km\,s^{-1}}$']
fig.legend(handles, labels, loc='upper center', bbox_to_anchor=(0.498, 0.999), ncol=2,
           fontsize=9.5, frameon=True, handlelength=2.2, columnspacing=2.0, borderpad=0.35)

fig.savefig('out.png', dpi=100)
